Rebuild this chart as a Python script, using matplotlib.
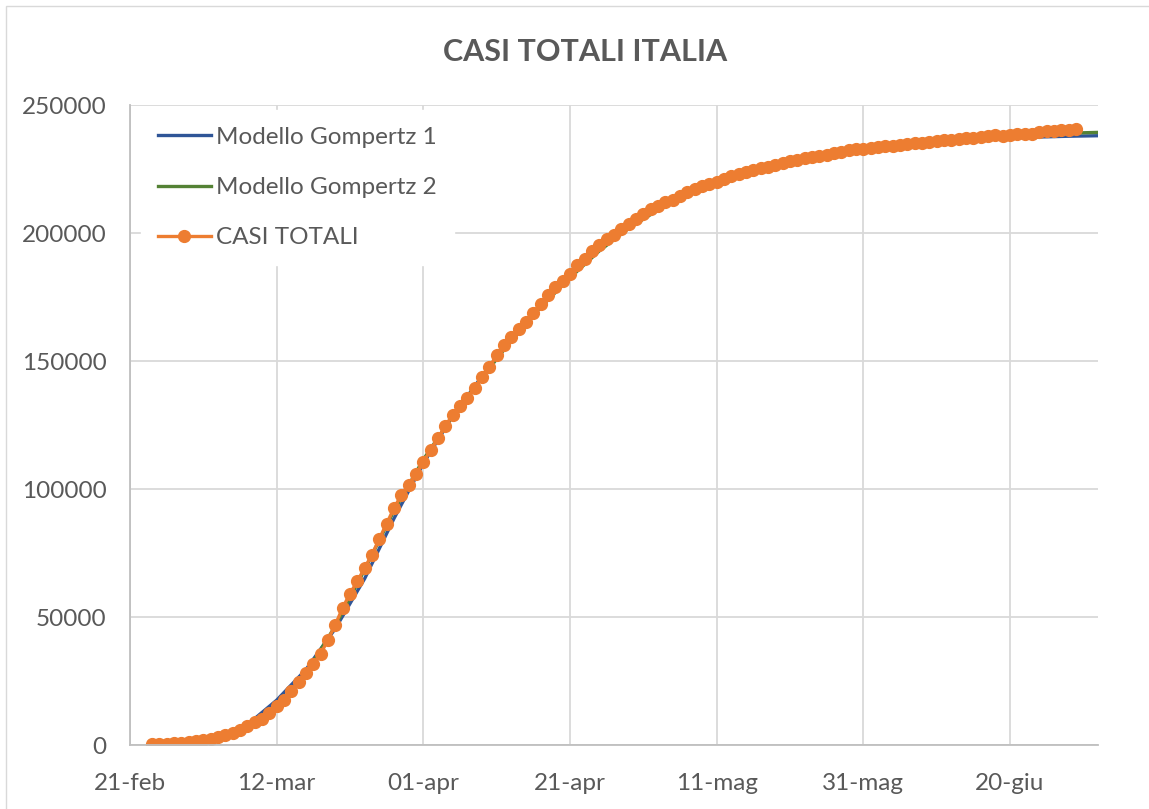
import matplotlib
matplotlib.use("Agg")
import matplotlib.pyplot as plt
from matplotlib.patches import Rectangle
import pandas as pd

plt.rcParams['font.family'] = ['Lato', 'DejaVu Sans']

# daily total cases, from 24-feb
data_start = "2020-02-24"
casi_totali = [
    229, 322, 400, 650, 888, 1128, 1694, 2036, 2502, 3089, 3858, 4636, 5883,
    7375, 9172, 10149, 12462, 15113, 17660, 21157, 24747, 27980, 31506, 35713,
    41035, 47021, 53578, 59138, 63927, 69176, 74386, 80539, 86498, 92472,
    97689, 101739, 105792, 110574, 115242, 119827, 124632, 128948, 132547,
    135586, 139422, 143626, 147577, 152271, 156363, 159516, 162488, 165155,
    168941, 172434, 175925, 178972, 181228, 183957, 187327, 189973, 192994,
    195351, 197675, 199414, 201505, 203591, 205463, 207428, 209328, 210717,
    211938, 213013, 214457, 215858, 217185, 218268, 219070, 219814, 221216,
    222104, 223096, 223885, 224760, 225435, 225886, 226699, 227364, 228006,
    228658, 229327, 229858, 230158, 230555, 231139, 231732, 232248, 232664,
    232997, 233197, 233515, 233836, 234013, 234531, 234801, 234998, 235278,
    235561, 235763, 236142, 236305, 236651, 236989, 237290, 237500, 237828,
    238159, 238011, 238275, 238499, 238720, 238833, 239410, 239706, 239961,
    240136, 240310, 240436,
]

# model curves, read every 4 days from 25-feb to 02-jul
model_dates = [
    "2020-02-25", "2020-02-29", "2020-03-04", "2020-03-08",
    "2020-03-12", "2020-03-16", "2020-03-20", "2020-03-24", "2020-03-28",
    "2020-04-01", "2020-04-05", "2020-04-09", "2020-04-13", "2020-04-17",
    "2020-04-21", "2020-04-25", "2020-04-29", "2020-05-03", "2020-05-07",
    "2020-05-11", "2020-05-15", "2020-05-19", "2020-05-23", "2020-05-27",
    "2020-05-31", "2020-06-04", "2020-06-08", "2020-06-12", "2020-06-16",
    "2020-06-20", "2020-06-24", "2020-06-28", "2020-07-02",
]
gompertz_1 = [
    450, 1300, 3300, 7900, 17500, 29500, 45500, 65000, 88500,
    110000, 128500, 144000, 158500, 171500, 183000, 194000, 202800, 210000,
    215500, 220000, 223800, 226800, 229200, 231100, 232700, 234000, 235000,
    235900, 236600, 237100, 237500, 237800, 238000,
]
gompertz_2 = [
    350, 1000, 2900, 7000, 15000, 28000, 46500, 68500, 91500,
    111500, 128500, 143500, 158000, 171000, 182500, 193000, 201800, 209000,
    214800, 219500, 223400, 226500, 229100, 231200, 232900, 234300, 235500,
    236500, 237300, 238000, 238500, 239000, 239300,
]

tick_dates = ["2020-02-21", "2020-03-12", "2020-04-01", "2020-04-21",
              "2020-05-11", "2020-05-31", "2020-06-20"]
tick_labels = ["21-feb", "12-mar", "01-apr", "21-apr", "11-mag", "31-mag", "20-giu"]
y_ticks = [0, 50000, 100000, 150000, 200000, 250000]

data_dates = pd.date_range(data_start, periods=len(casi_totali), freq="D")
m_dates = pd.to_datetime(model_dates)

fig = plt.figure(figsize=(11.49, 8.09), dpi=100)
ax = fig.add_axes([130 / 1149, 64 / 809, 968 / 1149, 640 / 809])

grey = "#595959"
ax.plot(m_dates, gompertz_1, color="#2f5597", lw=2.4, label="Modello Gompertz 1")
ax.plot(m_dates, gompertz_2, color="#548235", lw=2.4, label="Modello Gompertz 2")
ax.plot(data_dates, casi_totali, color="#ed7d31", lw=2.4, marker="o", ms=8.5,
        label="CASI TOTALI")

ax.set_xlim(pd.Timestamp("2020-02-21"), pd.Timestamp("2020-07-02"))
ax.set_ylim(0, 250000)
ax.set_xticks(pd.to_datetime(tick_dates))
ax.set_xticklabels(tick_labels)
ax.set_yticks(y_ticks)
ax.set_yticklabels([str(v) for v in y_ticks])
ax.tick_params(length=0, labelsize=17.5, labelcolor=grey)
ax.tick_params(axis="y", pad=17)
ax.tick_params(axis="x", pad=20)

ax.grid(True, color="#d9d9d9", lw=1.3)
ax.set_axisbelow(True)
for s in ["top", "right"]:
    ax.spines[s].set_visible(False)
for s in ["left", "bottom"]:
    ax.spines[s].set_color("#bfbfbf")
    ax.spines[s].set_linewidth(1.3)

leg = ax.legend(loc="upper left", bbox_to_anchor=(0.006, 1.0), frameon=True,
                fontsize=17.5, handlelength=2.2, handletextpad=0.2,
                labelspacing=1.2, borderaxespad=0.2, borderpad=0.7,
                fancybox=False)
leg.get_frame().set_edgecolor("white")
leg.get_frame().set_facecolor("white")
leg.get_frame().set_alpha(1)
for t in leg.get_texts():
    t.set_color(grey)

fig.text(0.509, 1 - 52 / 809, "CASI TOTALI ITALIA", ha="center", va="center",
         fontsize=22, fontweight="bold", color=grey)

fig.patches.append(Rectangle((6 / 1149, -0.1), 1.2, 0.1 + 803 / 809,
                             transform=fig.transFigure, fill=False,
                             edgecolor="#d9d9d9", lw=1))

fig.savefig("out.png", dpi=100)
